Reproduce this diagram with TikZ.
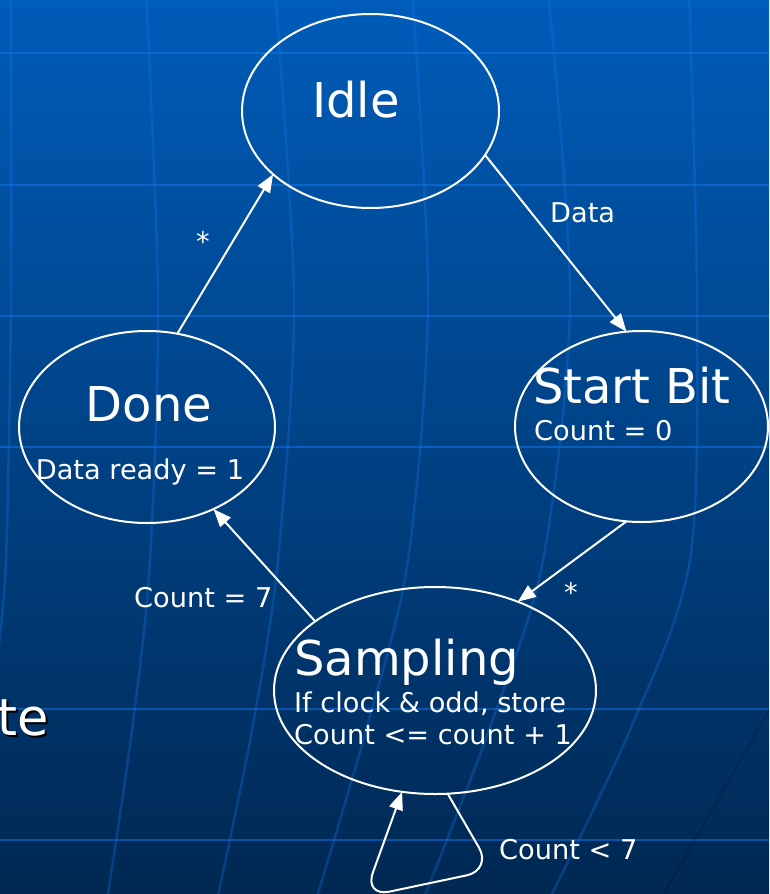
\documentclass[tikz,border=0pt]{standalone}
\usepackage{fontspec}
\setmainfont{DejaVu Sans}
\usetikzlibrary{shapes.geometric,arrows.meta}
\definecolor{bgtop}{RGB}{0,92,185}
\definecolor{bgbot}{RGB}{0,40,82}
\definecolor{gridblue}{RGB}{20,120,240}

\begin{document}
\begin{tikzpicture}[x=1pt,y=-1pt,
  stnode/.style={draw=white,line width=2pt,ellipse,inner sep=0pt,outer sep=0pt},
  big/.style={text=white,inner sep=0pt,font=\fontsize{48}{56}\selectfont},
  small/.style={text=white,inner sep=0pt,font=\fontsize{27.2}{32}\selectfont},
  trans/.style={draw=white,line width=2pt,-{Triangle[length=18pt,width=14pt]}},
  bgline/.style={gridblue,line width=2.5pt}]
\useasboundingbox (0,0) rectangle (769,894);
\clip (0,0) rectangle (769,894);

% background
\shade[top color=bgtop,bottom color=bgbot] (0,0) rectangle (769,894);
\foreach \y in {53,185,316,447,709,840} {
    \draw[bgline,opacity=0.5] (0,\y) -- (769,\y);
}
\draw[bgline,opacity=0.3] plot[smooth] coordinates {(11,-10) (11,300) (6,560) (-3,660)};
\foreach \a/\b/\c/\d/\e in {146/158/150/132/107,275/294/278/252/217,412/428/408/366/316,548/570/543/489/423,689/697/690/630/549} {
    \draw[bgline,opacity=0.3] plot[smooth] coordinates {(\a,-10) (\b,300) (\c,560) (\d,730) (\e,900)};
}
\draw[black,opacity=0.15,line width=2pt] (775,700) -- (660,900);

\node[anchor=base east,inner sep=0pt,text=black,font=\fontsize{51}{60}\selectfont] (te-shadow) at (51,737) {te};
\node[anchor=base east,inner sep=0pt,text=white,font=\fontsize{51}{60}\selectfont] (te) at (49,735) {te};

% states
\node[stnode,minimum width=257,minimum height=194] (idle) at (370.5,111) {};
\node[stnode,minimum width=256,minimum height=192] (done) at (147,427) {};
\node[stnode,minimum width=253,minimum height=191] (start) at (641.5,426.5) {};
\node[stnode,minimum width=322,minimum height=207] (sampling) at (435,690.5) {};

\node[big,anchor=base] (idle-t) at (356,117) {Idle};
\node[big,anchor=base] (done-t) at (149,421) {Done};
\node[small,anchor=base] (done-a) at (140,479) {Data ready = 1};
\node[big,anchor=base west] (start-t) at (533,403) {Start Bit};
\node[small,anchor=base west] (start-a) at (534,440) {Count = 0};
\node[big,anchor=base west] (sampling-t) at (294,675) {Sampling};
\node[small,anchor=base west] (sampling-a) at (294,712) {If clock \& odd, store};
\node[small,anchor=base west] (sampling-b) at (294,744) {Count <= count + 1};

% transitions
\draw[trans] (idle.-21.5) -- (start.99);
\draw[trans] (start.-99) -- (sampling.47);
\draw[trans] (sampling.150) -- (done.-51);
\draw[trans] (done.72) -- (idle.-147.5);
\draw[trans,rounded corners=26pt] (sampling.-83) -- (492,870) -- (364,897) -- (sampling.-108);

\node[small,anchor=base west] (lbl-data) at (550,222) {Data};
\node[small,anchor=base] (lbl-star1) at (203,251) {*};
\node[small,anchor=base] (lbl-star2) at (571,602) {*};
\node[small,anchor=base west] (lbl-eq7) at (134,607) {Count = 7};
\node[small,anchor=base west] (lbl-lt7) at (499,859) {Count < 7};
\end{tikzpicture}
\end{document}
